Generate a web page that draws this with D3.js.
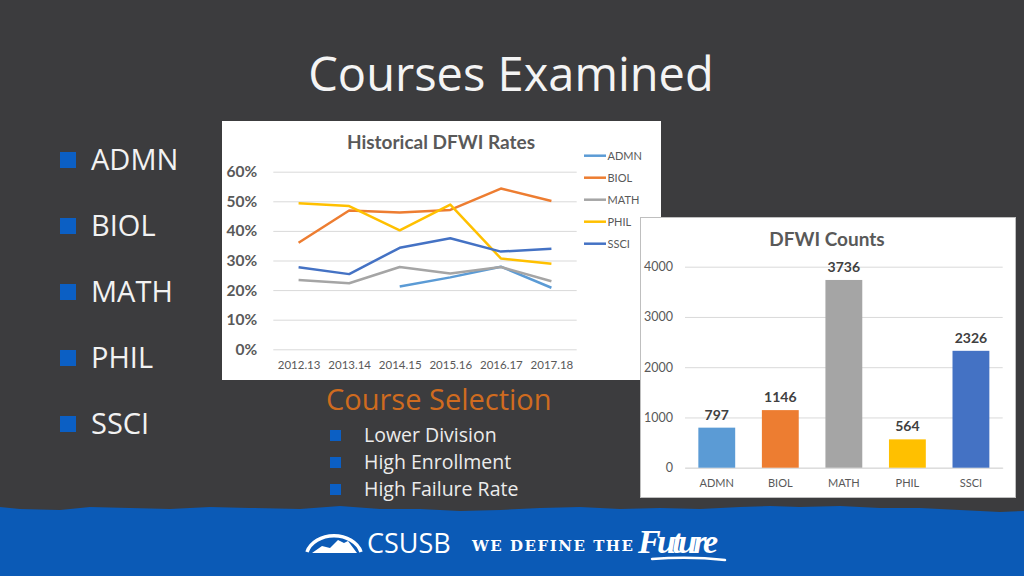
<!DOCTYPE html>
<html>
<head>
<meta charset="utf-8">
<script src="https://cdn.jsdelivr.net/npm/d3@7/dist/d3.min.js"></script>
<style>
  html, body { margin: 0; padding: 0; background: #3c3c3e; }
  svg { display: block; }
</style>
</head>
<body>
<div id="slide"></div>
<script>
let w = 1024;
let h = 576;

// data
let courses = ["ADMN", "BIOL", "MATH", "PHIL", "SSCI"];
let colors = ["#5b9bd5", "#ed7d31", "#a5a5a5", "#ffc000", "#4472c4"];
let years = ["2012.13", "2013.14", "2014.15", "2015.16", "2016.17", "2017.18"];
let admnRates = [null, null, 0.212, 0.243, 0.279, 0.208];
let biolRates = [0.360, 0.469, 0.462, 0.471, 0.543, 0.501];
let mathRates = [0.234, 0.223, 0.278, 0.256, 0.278, 0.230];
let philRates = [0.493, 0.484, 0.402, 0.489, 0.307, 0.289];
let ssciRates = [0.277, 0.254, 0.343, 0.375, 0.330, 0.340];
let rateTicks = [0, 0.1, 0.2, 0.3, 0.4, 0.5, 0.6];
let dfwiCounts = [797, 1146, 3736, 564, 2326];
let countTicks = [0, 1000, 2000, 3000, 4000];
let selection = ["Lower Division", "High Enrollment", "High Failure Rate"];

let rateSeries = [admnRates, biolRates, mathRates, philRates, ssciRates];

let svg = d3.select("#slide")
    .append("svg")
    .attr("width", w)
    .attr("height", h)
    .attr("viewBox", "0 0 " + w + " " + h);

svg.append("rect")
    .attr("width", w)
    .attr("height", h)
    .attr("fill", "#3c3c3e");

// slide title
svg.append("text")
    .attr("x", 511)
    .attr("y", 91)
    .attr("text-anchor", "middle")
    .attr("font-family", "Open Sans")
    .attr("font-size", 47)
    .attr("fill", "#f4f4f4")
    .text("Courses Examined");

// left bullet list
let bullets = svg.append("g");
bullets.selectAll("rect")
    .data(courses)
    .enter()
    .append("rect")
    .attr("x", 60)
    .attr("y", (d, i) => 152 + i * 66)
    .attr("width", 16)
    .attr("height", 16)
    .attr("fill", "#0b5fc4");
bullets.selectAll("text")
    .data(courses)
    .enter()
    .append("text")
    .attr("x", 91)
    .attr("y", (d, i) => 169.5 + i * 66)
    .attr("font-family", "Open Sans")
    .attr("font-size", 29)
    .attr("fill", "#f2f2f2")
    .text(d => d);

// ---------- line chart ----------
let line = svg.append("g");
line.append("rect")
    .attr("x", 222)
    .attr("y", 121)
    .attr("width", 439)
    .attr("height", 259)
    .attr("fill", "white");

line.append("text")
    .attr("x", 441)
    .attr("y", 149)
    .attr("text-anchor", "middle")
    .attr("font-family", "Lato")
    .attr("font-weight", "bold")
    .attr("font-size", 19)
    .attr("fill", "#595959")
    .text("Historical DFWI Rates");

let xScale = d3.scalePoint()
    .domain(years)
    .range([273.3, 576.7])
    .padding(0.5);
let yScale = d3.scaleLinear()
    .domain([0, 0.6])
    .range([349.3, 171.7]);

let yAxis = d3.axisLeft(yScale)
    .tickValues(rateTicks)
    .tickFormat(d3.format(".0%"))
    .tickSize(-(576.7 - 273.3))
    .tickPadding(16);
let yAxisG = line.append("g")
    .attr("transform", "translate(273.3,0)")
    .call(yAxis);
yAxisG.select(".domain").remove();
yAxisG.selectAll("line").attr("stroke", "#d9d9d9");
yAxisG.selectAll("text")
    .attr("font-family", "Lato")
    .attr("font-weight", "bold")
    .attr("font-size", 15.5)
    .attr("fill", "#595959");

let xAxis = d3.axisBottom(xScale).tickSize(0).tickPadding(12);
let xAxisG = line.append("g")
    .attr("transform", "translate(0,349.3)")
    .call(xAxis);
xAxisG.select(".domain").remove();
xAxisG.selectAll("text")
    .attr("font-family", "Lato")
    .attr("font-size", 11.5)
    .attr("fill", "#595959");

let lineMaker = d3.line()
    .defined(d => d != null)
    .x((d, i) => xScale(years[i]))
    .y(d => yScale(d));

line.selectAll(".series")
    .data(rateSeries)
    .enter()
    .append("path")
    .attr("class", "series")
    .attr("d", lineMaker)
    .attr("fill", "none")
    .attr("stroke", (d, i) => colors[i])
    .attr("stroke-width", 2.5)
    .attr("stroke-linejoin", "round");

let legend = line.selectAll(".legendItem")
    .data(courses)
    .enter()
    .append("g")
    .attr("class", "legendItem")
    .attr("transform", (d, i) => "translate(584," + (155.7 + i * 22) + ")");
legend.append("line")
    .attr("x1", 0)
    .attr("x2", 22)
    .attr("stroke", (d, i) => colors[i])
    .attr("stroke-width", 2.5);
legend.append("text")
    .attr("x", 23.5)
    .attr("y", 4)
    .attr("font-family", "Lato")
    .attr("font-size", 11)
    .attr("fill", "#595959")
    .text(d => d);

// ---------- bar chart ----------
let bar = svg.append("g");
bar.append("rect")
    .attr("x", 640.5)
    .attr("y", 217.5)
    .attr("width", 375)
    .attr("height", 280)
    .attr("fill", "white")
    .attr("stroke", "#bfbfbf")
    .attr("stroke-width", 1);

bar.append("text")
    .attr("x", 827)
    .attr("y", 246)
    .attr("text-anchor", "middle")
    .attr("font-family", "Lato")
    .attr("font-weight", "bold")
    .attr("font-size", 19)
    .attr("fill", "#595959")
    .text("DFWI Counts");

let bScale = d3.scaleBand()
    .domain(courses)
    .range([685, 1002.7])
    .paddingInner(0.42)
    .paddingOuter(0.21);
let cScale = d3.scaleLinear()
    .domain([0, 4000])
    .range([467.7, 266.7]);

let cAxis = d3.axisLeft(cScale)
    .tickValues(countTicks)
    .tickFormat(d3.format("d"))
    .tickSize(-(1002.7 - 685))
    .tickPadding(12);
let cAxisG = bar.append("g")
    .attr("transform", "translate(685,0)")
    .call(cAxis);
cAxisG.select(".domain").remove();
cAxisG.selectAll("line").attr("stroke", "#d9d9d9");
cAxisG.selectAll("text")
    .attr("font-family", "Lato")
    .attr("font-size", 12.5)
    .attr("fill", "#595959");

let bAxis = d3.axisBottom(bScale).tickSize(0).tickPadding(12);
let bAxisG = bar.append("g")
    .attr("transform", "translate(0,467.7)")
    .call(bAxis);
bAxisG.select(".domain").attr("stroke", "#d9d9d9");
bAxisG.selectAll("text")
    .attr("font-family", "Lato")
    .attr("font-size", 11)
    .attr("fill", "#595959");

bar.selectAll(".bar")
    .data(dfwiCounts)
    .enter()
    .append("rect")
    .attr("class", "bar")
    .attr("x", (d, i) => bScale(courses[i]))
    .attr("y", d => cScale(d))
    .attr("width", bScale.bandwidth())
    .attr("height", d => cScale(0) - cScale(d))
    .attr("fill", (d, i) => colors[i]);

bar.selectAll(".valueLabel")
    .data(dfwiCounts)
    .enter()
    .append("text")
    .attr("class", "valueLabel")
    .attr("x", (d, i) => bScale(courses[i]) + bScale.bandwidth() / 2)
    .attr("y", d => cScale(d) - 8)
    .attr("text-anchor", "middle")
    .attr("font-family", "Lato")
    .attr("font-weight", "bold")
    .attr("font-size", 14)
    .attr("fill", "#404040")
    .text(d => d);

// course selection block
svg.append("text")
    .attr("x", 326)
    .attr("y", 410)
    .attr("font-family", "Open Sans")
    .attr("font-size", 29)
    .attr("fill", "#cf6b1f")
    .text("Course Selection");

let sel = svg.append("g");
sel.selectAll("rect")
    .data(selection)
    .enter()
    .append("rect")
    .attr("x", 330)
    .attr("y", (d, i) => 430 + i * 27)
    .attr("width", 11)
    .attr("height", 11)
    .attr("fill", "#0b5fc4");
sel.selectAll("text")
    .data(selection)
    .enter()
    .append("text")
    .attr("x", 364)
    .attr("y", (d, i) => 441.5 + i * 27)
    .attr("font-family", "Open Sans")
    .attr("font-size", 19.5)
    .attr("fill", "#ececec")
    .text(d => d);

// ---------- footer banner ----------
let edge = [[0, 507], [20, 509], [60, 510], [90, 507], [130, 508], [170, 509], [210, 507],
    [250, 508], [300, 509], [340, 506], [380, 509], [420, 509], [460, 511], [500, 510],
    [540, 508], [580, 507], [620, 509], [660, 508], [700, 509], [740, 507], [770, 506],
    [800, 507], [840, 506], [880, 508], [920, 508], [960, 510], [1000, 512], [1024, 511]];
let banner = d3.path();
banner.moveTo(0, h);
edge.forEach(p => banner.lineTo(p[0], p[1]));
banner.lineTo(w, h);
banner.closePath();
svg.append("path")
    .attr("d", banner.toString())
    .attr("fill", "#0b5ab6");

// logo
let logo = svg.append("g").attr("transform", "translate(334,552)");
logo.append("path")
    .attr("d", "M-27,0 A28,22 0 0 1 27,0")
    .attr("fill", "none")
    .attr("stroke", "white")
    .attr("stroke-width", 3.5);
logo.append("path")
    .attr("d", "M-22,1 L-12,-6 L-4,-4 L4,-12 L10,-9 L14,-11 L23,1 Z")
    .attr("fill", "white");

svg.append("text")
    .attr("x", 367)
    .attr("y", 553)
    .attr("font-family", "Open Sans")
    .attr("font-size", 27)
    .attr("fill", "white")
    .text("CSUSB");

svg.append("text")
    .attr("x", 472)
    .attr("y", 551)
    .attr("font-family", "DejaVu Serif")
    .attr("font-weight", "bold")
    .attr("font-size", 15)
    .attr("fill", "white")
    .attr("textLength", 161)
    .text("WE DEFINE THE");

svg.append("text")
    .attr("x", 638)
    .attr("y", 553)
    .attr("font-family", "Liberation Serif")
    .attr("font-style", "italic")
    .attr("font-weight", "bold")
    .attr("font-size", 34)
    .attr("fill", "white")
    .attr("textLength", 80)
    .text("Future");

svg.append("path")
    .attr("d", "M652,559 Q690,556 725,560")
    .attr("fill", "none")
    .attr("stroke", "white")
    .attr("stroke-width", 2.5)
    .attr("stroke-linecap", "round");
</script>
</body>
</html>
